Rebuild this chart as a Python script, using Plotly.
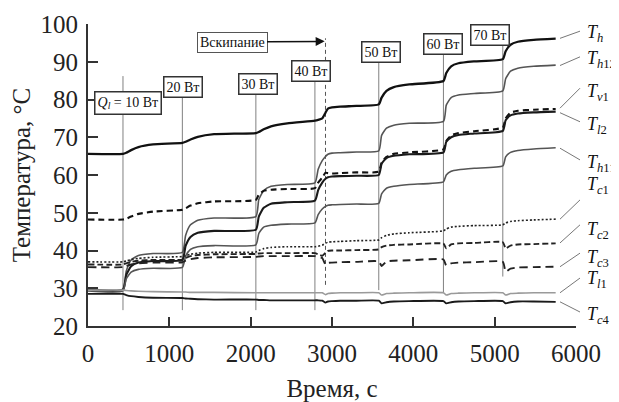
import plotly.graph_objects as go

# ---- data ----
time_s = [0, 430, 470, 530, 620, 800, 1160, 1200, 1260, 1350, 1550, 2064, 2100, 2160, 2250, 2450,
          2790, 2830, 2880, 2920, 2950, 3000, 3100, 3300, 3575, 3610, 3670, 3760, 3950, 4370,
          4405, 4465, 4555, 4750, 5100, 5135, 5195, 5285, 5480, 5750]

T_h = [65.6, 65.6, 65.9, 66.6, 67.4, 68.1, 68.5, 68.8, 69.4, 70.1, 70.8, 71.1, 71.4, 72.1, 72.9, 73.7,
       74.4, 74.6, 75.0, 76.5, 77.6, 77.9, 78.1, 78.3, 78.7, 80.5, 82.3, 83.3, 84.0, 84.9,
       87.0, 88.8, 89.6, 90.1, 90.7, 92.8, 94.5, 95.3, 95.8, 96.1]
T_h12 = [29.8, 29.8, 34.5, 37.5, 38.7, 39.2, 39.5, 44.0, 46.8, 48.0, 48.6, 49.0, 53.5, 55.9, 57.0, 57.5,
         57.9, 61.5, 63.8, 64.9, 65.5, 65.8, 65.9, 66.1, 66.4, 70.5, 72.4, 73.2, 73.7, 74.2,
         78.5, 80.5, 81.2, 81.6, 82.3, 85.5, 87.5, 88.3, 88.8, 89.1]
T_v1 = [48.2, 48.2, 48.4, 49.0, 49.7, 50.3, 50.8, 51.2, 51.9, 52.5, 53.0, 53.4, 54.8, 55.8, 56.1, 56.3,
        56.5, 58.0, 59.3, 60.6, 60.5, 60.4, 60.5, 60.7, 60.9, 63.3, 64.8, 65.6, 66.0, 66.8,
        69.0, 70.5, 71.1, 71.6, 72.6, 75.0, 76.5, 77.0, 77.3, 77.5]
T_l2 = [29.6, 29.6, 33.5, 35.8, 36.8, 37.2, 37.5, 41.2, 43.6, 44.7, 45.2, 45.5, 49.0, 51.3, 52.4, 52.8,
        53.2, 56.0, 58.0, 59.0, 59.4, 59.6, 59.7, 59.8, 60.0, 63.0, 64.5, 65.1, 65.5, 66.0,
        68.8, 70.0, 70.6, 71.0, 71.7, 74.5, 75.8, 76.3, 76.6, 76.8]
T_h11 = [29.3, 29.3, 32.5, 34.3, 35.0, 35.3, 35.5, 38.5, 40.3, 41.0, 41.3, 41.5, 44.5, 46.2, 46.7, 47.0,
         47.3, 49.5, 51.0, 51.7, 52.0, 52.1, 52.2, 52.3, 52.5, 55.0, 56.5, 57.0, 57.5, 58.2,
         60.0, 61.0, 61.4, 61.8, 62.4, 64.8, 66.0, 66.5, 66.9, 67.2]
T_c1 = [37.0, 37.0, 37.2, 37.6, 37.9, 38.2, 38.4, 38.6, 39.0, 39.3, 39.5, 39.6, 40.0, 40.5, 40.8, 41.0,
        41.0, 41.1, 41.4, 41.9, 42.2, 42.3, 42.4, 42.6, 42.8, 43.4, 44.0, 44.4, 44.7, 45.2,
        45.7, 46.2, 46.4, 46.6, 46.8, 47.3, 47.7, 47.9, 48.1, 48.3]
T_c2 = [36.3, 36.3, 36.6, 37.0, 37.3, 37.5, 37.6, 38.0, 38.5, 38.8, 39.0, 39.1, 39.2, 39.3, 39.3, 39.3,
        39.3, 39.0, 38.6, 39.4, 39.9, 40.0, 40.0, 40.1, 40.3, 40.9, 41.3, 41.5, 41.6, 41.8,
        40.6, 41.6, 41.9, 42.0, 42.2, 40.6, 41.3, 41.6, 41.7, 41.9]
T_c3 = [35.6, 35.6, 35.9, 36.3, 36.6, 36.8, 36.9, 37.3, 37.7, 38.0, 38.2, 38.3, 38.4, 38.5, 38.5, 38.5,
        38.5, 38.3, 38.0, 36.3, 36.7, 36.8, 36.9, 37.0, 37.1, 35.9, 37.1, 37.3, 37.4, 37.6,
        36.0, 36.6, 36.8, 36.9, 37.0, 34.4, 35.2, 35.5, 35.6, 35.7]
T_l1 = [29.5, 29.5, 29.4, 29.3, 29.2, 29.1, 29.0, 29.0, 28.9, 28.9, 28.9, 28.8, 28.8, 28.8, 28.8, 28.8,
        28.8, 28.8, 28.8, 28.3, 28.6, 28.7, 28.8, 28.8, 28.8, 28.2, 28.6, 28.7, 28.8, 28.8,
        28.2, 28.6, 28.7, 28.8, 28.8, 28.2, 28.6, 28.7, 28.8, 28.8]
T_c4 = [28.5, 28.5, 28.2, 27.9, 27.7, 27.5, 27.4, 27.3, 27.2, 27.1, 27.0, 27.0, 26.9, 26.9, 26.8, 26.8,
        26.8, 26.8, 26.7, 26.2, 26.5, 26.6, 26.7, 26.7, 26.7, 26.0, 26.3, 26.5, 26.6, 26.6,
        26.0, 26.3, 26.5, 26.6, 26.6, 26.0, 26.3, 26.5, 26.5, 26.4]

# heater power steps (vertical markers)
step_times = [430, 1160, 2064, 2790, 3575, 4370, 5100]
step_labels = ["<i>Q</i><sub><i>l</i></sub> = 10 Вт", "20 Вт", "30 Вт", "40 Вт", "50 Вт", "60 Вт", "70 Вт"]
boil_time = 2920
boil_label = "Вскипание"

x_ticks = [0, 1000, 2000, 3000, 4000, 5000, 6000]
y_ticks = [20, 30, 40, 50, 60, 70, 80, 90, 100]

FONT = "Liberation Serif"

series = [
    ("T_h", T_h, "#111111", 2.3, "solid"),
    ("T_h12", T_h12, "#555555", 1.6, "solid"),
    ("T_v1", T_v1, "#111111", 2.1, "6px,4px"),
    ("T_l2", T_l2, "#1a1a1a", 2.1, "solid"),
    ("T_h11", T_h11, "#555555", 1.6, "solid"),
    ("T_c1", T_c1, "#222222", 1.6, "2px,2px"),
    ("T_c2", T_c2, "#222222", 1.9, "6px,3px"),
    ("T_c3", T_c3, "#222222", 1.9, "8px,5px"),
    ("T_l1", T_l1, "#9a9a9a", 1.6, "solid"),
    ("T_c4", T_c4, "#1a1a1a", 1.9, "solid"),
]

fig = go.Figure()
for name, vals, col, w, dash in series:
    fig.add_trace(go.Scatter(x=time_s, y=vals, mode="lines", name=name,
                             line=dict(color=col, width=w, dash=dash, shape="spline", smoothing=0.5),
                             showlegend=False))

# vertical step lines
line_bottoms = [24.2, 24.2, 24.2, 24.2, 29.5, 28.7, 33.1]
line_tops = [86.2, 80.7, 81.7, 84.9, 89.9, 92.0, 94.2]
shapes = []
for t, b, tp in zip(step_times, line_bottoms, line_tops):
    shapes.append(dict(type="line", xref="x", yref="y", x0=t, x1=t, y0=b, y1=tp,
                       line=dict(color="#808080", width=1), layer="below"))
shapes.append(dict(type="line", xref="x", yref="y", x0=boil_time, x1=boil_time, y0=30.9, y1=96.2,
                   line=dict(color="#555555", width=1, dash="4px,3px"), layer="below"))

# step label boxes
box_pos = [(492, 79.2), (1162, 83.4), (2084, 84.2), (2742, 87.5), (3597, 92.6), (4359, 94.8), (4937, 97.0)]
annotations = []
for (bx, by), txt in zip(box_pos, step_labels):
    annotations.append(dict(x=bx, y=by, xref="x", yref="y", text=txt, showarrow=False,
                            font=dict(family=FONT, size=14, color="#111"),
                            bgcolor="white", bordercolor="#333", borderwidth=1.5, borderpad=2))
annotations.append(dict(x=boil_time - 10, y=95.4, ax=1771, ay=95.2, xref="x", yref="y",
                        axref="x", ayref="y", text=boil_label, showarrow=True,
                        arrowhead=2, arrowsize=1.2, arrowwidth=1.5, arrowcolor="#111",
                        font=dict(family=FONT, size=14, color="#111"),
                        bgcolor="white", bordercolor="#555", borderwidth=1, borderpad=2))

# right-hand labels with leader lines (positions given in picture pixels -> paper units)
def px2paper(px):
    return (px - 88) / 488.0

labels = [
    ("<i>T</i><sub><i>h</i></sub>", 97.6, 96.2, 98.1),
    ("<i>T</i><sub><i>h</i>12</sub>", 90.5, 89.0, 91.3),
    ("<i>T</i><sub><i>v</i>1</sub>", 81.8, 77.7, 83.0),
    ("<i>T</i><sub><i>l</i>2</sub>", 73.2, 76.5, 74.1),
    ("<i>T</i><sub><i>h</i>11</sub>", 63.1, 67.1, 64.0),
    ("<i>T</i><sub><i>c</i>1</sub>", 57.1, 48.3, 53.4),
    ("<i>T</i><sub><i>c</i>2</sub>", 45.4, 42.0, 46.8),
    ("<i>T</i><sub><i>c</i>3</sub>", 38.0, 35.7, 39.3),
    ("<i>T</i><sub><i>l</i>1</sub>", 32.2, 28.8, 32.7),
    ("<i>T</i><sub><i>c</i>4</sub>", 22.9, 26.4, 23.7),
]
for txt, ly, y0, y1 in labels:
    annotations.append(dict(x=px2paper(585), y=ly, xref="paper", yref="y", text=txt, showarrow=False,
                            xanchor="left", yanchor="middle",
                            font=dict(family=FONT, size=18, color="#111")))
    shapes.append(dict(type="line", xref="paper", yref="y", x0=px2paper(560), x1=px2paper(580),
                       y0=y0, y1=y1, line=dict(color="#777", width=1)))

# page body adds an 8px offset, so the figure is 8px smaller and margins shifted
fig.update_layout(
    width=611, height=394,
    margin=dict(l=80, r=43, t=16, b=76, autoexpand=False),
    plot_bgcolor="white", paper_bgcolor="white",
    font=dict(family=FONT, size=25, color="#222"),
    shapes=shapes, annotations=annotations,
    xaxis=dict(range=[0, 6000], tickvals=x_ticks, ticks="inside", ticklen=9, tickwidth=1.5,
               tickcolor="#333", showline=True, linecolor="#333", linewidth=2, showgrid=False,
               zeroline=False, automargin=False, ticklabelstandoff=4,
               tickfont=dict(family=FONT, size=25, color="#222"),
               title=dict(text="Время, с", font=dict(family=FONT, size=25, color="#222"), standoff=14)),
    yaxis=dict(range=[20, 100], tickvals=y_ticks, ticks="inside", ticklen=10, tickwidth=1.5,
               tickcolor="#333", showline=True, linecolor="#333", linewidth=2, showgrid=False,
               zeroline=False, automargin=False, ticklabelstandoff=3,
               tickfont=dict(family=FONT, size=25, color="#222"),
               title=dict(text="Температура, °C", font=dict(family=FONT, size=25, color="#222"), standoff=6)),
)

fig.write_html("out.html")
